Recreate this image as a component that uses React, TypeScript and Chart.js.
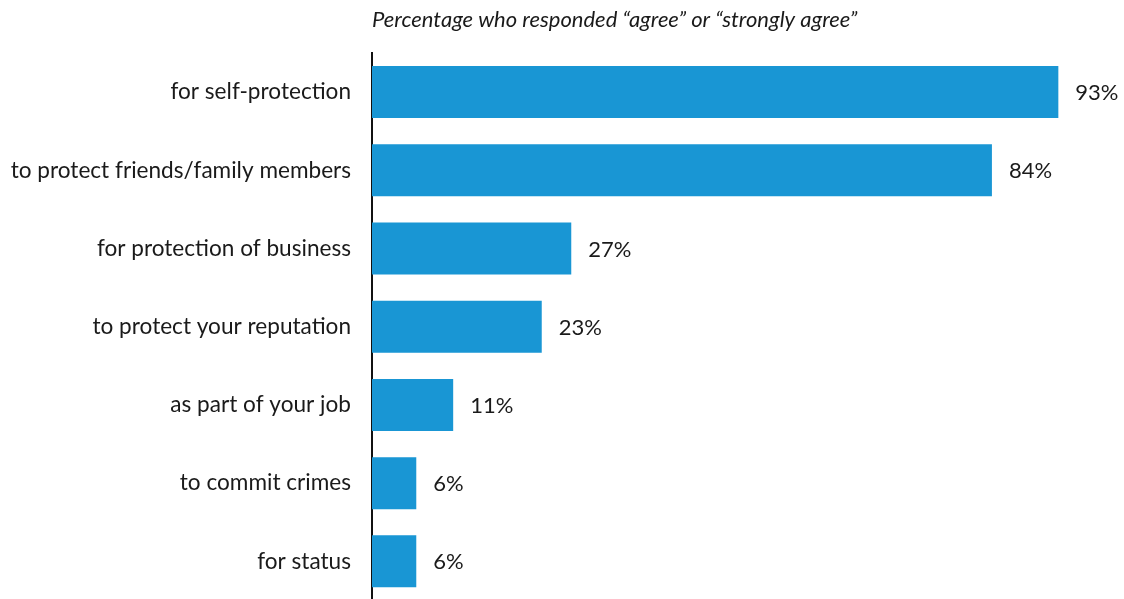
import React, { useEffect, useRef } from "react";
import { Chart, registerables } from "chart.js";

Chart.register(...registerables);

const categories = [
  "for self-protection",
  "to protect friends/family members",
  "for protection of business",
  "to protect your reputation",
  "as part of your job",
  "to commit crimes",
  "for status",
];
const values = [93, 84, 27, 23, 11, 6, 6];
const titleText = "Percentage who responded \u201Cagree\u201D or \u201Cstrongly agree\u201D";

const FONT = "Lato, 'Open Sans', sans-serif";

export default function App() {
  const ref = useRef<HTMLCanvasElement | null>(null);
  useEffect(() => {
    if (!ref.current) return;
    const labelPlugin = {
      id: "valueLabels",
      afterDatasetsDraw(chart: any) {
        const ctx = chart.ctx;
        const meta = chart.getDatasetMeta(0);
        ctx.save();
        ctx.font = `22px ${FONT}`;
        ctx.fillStyle = "#1a1a1a";
        ctx.textAlign = "left";
        ctx.textBaseline = "middle";
        meta.data.forEach((bar: any, i: number) => {
          ctx.fillText(`${values[i]}%`, bar.x + 17, bar.y + 1);
        });
        ctx.restore();
      },
    };
    const titlePlugin = {
      id: "topTitle",
      afterDraw(chart: any) {
        const ctx = chart.ctx;
        ctx.save();
        ctx.font = `italic 22px ${FONT}`;
        ctx.fillStyle = "#1a1a1a";
        ctx.textAlign = "left";
        ctx.textBaseline = "middle";
        ctx.fillText(titleText, chart.chartArea.left, 20);
        ctx.restore();
      },
    };
    const chart = new Chart(ref.current, {
      type: "bar",
      data: {
        labels: categories,
        datasets: [
          {
            data: values,
            backgroundColor: "#1996D4",
            borderWidth: 0,
            barPercentage: 0.665,
            categoryPercentage: 1,
          },
        ],
      },
      options: {
        indexAxis: "y",
        responsive: false,
        animation: false,
        layout: { padding: { top: 53, right: 14, bottom: 0, left: 0 } },
        plugins: {
          legend: { display: false },
          tooltip: { enabled: false },
          title: { display: false },
        },
        scales: {
          x: {
            display: false,
            min: 0,
            max: 100,
          },
          y: {
            afterFit(scale: any) {
              scale.width = 372;
            },
            grid: { display: false, drawTicks: false },
            border: { display: true, color: "#111", width: 2 },
            ticks: {
              padding: 21,
              color: "#1a1a1a",
              font: { family: FONT, size: 22.6 },
            },
          },
        },
      },
      plugins: [labelPlugin, titlePlugin],
    });
    return () => chart.destroy();
  }, []);
  return (
    <div style={{ position: "fixed", left: 0, top: 0, width: 1124, height: 635, background: "#fff" }}>
      <canvas ref={ref} width={1124} height={635} style={{ display: "block" }} />
    </div>
  );
}
